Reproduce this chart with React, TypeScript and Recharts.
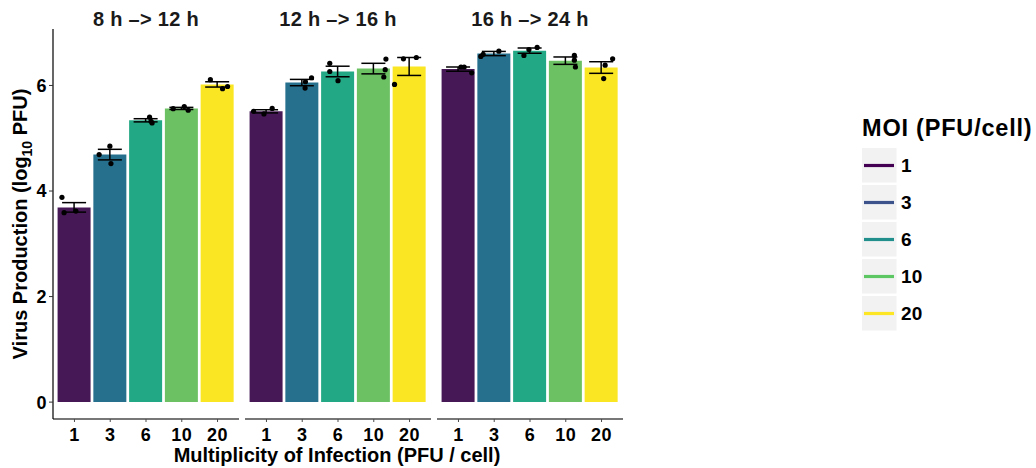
import React from 'react';
import { ComposedChart, Bar, ErrorBar, Scatter, XAxis, YAxis, Cell } from 'recharts';

const MOI = ['1', '3', '6', '10', '20'];
const PANEL_TITLES = ['8 h –> 12 h', '12 h –> 16 h', '16 h –> 24 h'];
const Y_TICKS = [0, 2, 4, 6];

const BAR_FILLS = ['#461856', '#26708E', '#22A884', '#6CC162', '#FAE622'];
const LEGEND_COLORS = ['#440154', '#3B528B', '#21908C', '#5DC863', '#FDE725'];

const MEANS_8_12 = [3.69, 4.69, 5.34, 5.565, 6.02];
const MEANS_12_16 = [5.51, 6.055, 6.265, 6.32, 6.36];
const MEANS_16_24 = [6.31, 6.605, 6.66, 6.47, 6.34];

const SE_8_12 = [0.09, 0.1, 0.03, 0.02, 0.05];
const SE_12_16 = [0.03, 0.06, 0.1, 0.1, 0.17];
const SE_16_24 = [0.04, 0.04, 0.05, 0.07, 0.11];

const REPS_8_12 = [[3.88, 3.59, 3.62], [4.69, 4.85, 4.52], [5.4, 5.32, 5.29], [5.56, 5.6, 5.53], [6.11, 5.94, 5.98]];
const REPS_12_16 = [[5.51, 5.46, 5.565], [6.07, 6.146, 5.95], [6.42, 6.265, 6.09], [6.5, 6.3, 6.16], [6.505, 6.53, 6.02]];
const REPS_16_24 = [[6.35, 6.35, 6.24], [6.55, 6.59, 6.65], [6.57, 6.68, 6.72], [6.57, 6.48, 6.35], [6.505, 6.385, 6.13]];

const JIT_8_12 = [[-0.35, -0.29, 0.04], [-0.31, -0.01, 0.02], [0.1, 0.14, 0.17], [-0.24, 0.07, 0.18], [-0.2, 0.14, 0.28]];
const JIT_12_16 = [[-0.36, -0.07, 0.16], [0.09, 0.26, 0.08], [-0.23, -0.23, 0.0], [0.34, 0.32, 0.28], [-0.17, 0.19, -0.42]];
const JIT_16_24 = [[0.07, 0.16, 0.37], [-0.375, -0.31, 0.13], [-0.17, -0.03, 0.2], [0.24, 0.24, 0.27], [0.31, 0.1, 0.06]];

const PANELS = [
  { title: PANEL_TITLES[0], means: MEANS_8_12, se: SE_8_12, reps: REPS_8_12, jit: JIT_8_12 },
  { title: PANEL_TITLES[1], means: MEANS_12_16, se: SE_12_16, reps: REPS_12_16, jit: JIT_12_16 },
  { title: PANEL_TITLES[2], means: MEANS_16_24, se: SE_16_24, reps: REPS_16_24, jit: JIT_16_24 },
];

const FONT = '"Liberation Sans", Arial, Helvetica, sans-serif';
const Y_DOMAIN: [number, number] = [-0.32, 7.07];
const PANEL_LEFTS = [53, 245, 437];
const PANEL_W = 186;
const H = 468;

const TICK_STYLE = { fill: '#000', fontSize: 18, fontWeight: 'bold', fontFamily: FONT, letterSpacing: 0.4 };

const Dot = (props: any) => <circle cx={props.cx} cy={props.cy} r={2.6} fill="#000" />;

function Panel({ idx }: { idx: number }) {
  const p = PANELS[idx];
  const data = MOI.map((m, i) => ({ moi: m, mean: p.means[i], se: p.se[i] }));
  const pts: { x: number; y: number }[] = [];
  p.reps.forEach((arr, i) => arr.forEach((v, k) => pts.push({ x: i + p.jit[i][k], y: v })));
  const showY = idx === 0;
  const left = showY ? 0 : PANEL_LEFTS[idx];
  const width = showY ? PANEL_LEFTS[0] + PANEL_W : PANEL_W;
  return (
    <div style={{ position: 'absolute', left, top: 0 }}>
      <ComposedChart width={width} height={H} data={data} margin={{ top: 29, right: 0, bottom: 19, left: 0 }}>
        <XAxis
          xAxisId="cat"
          dataKey="moi"
          type="category"
          interval={0}
          padding={{ left: 3.58, right: 3.58 }}
          height={30}
          tickSize={3}
          tickMargin={6}
          axisLine={{ stroke: '#4a4a4a', strokeWidth: 1.3 }}
          tickLine={{ stroke: '#4a4a4a' }}
          tick={TICK_STYLE}
        />
        <XAxis xAxisId="num" type="number" dataKey="x" domain={[-0.6, 4.6]} allowDataOverflow hide />
        <YAxis
          type="number"
          domain={Y_DOMAIN}
          ticks={Y_TICKS}
          allowDataOverflow
          hide={!showY}
          width={53}
          tickSize={4}
          tickMargin={2}
          axisLine={{ stroke: '#000', strokeWidth: 1.2 }}
          tickLine={{ stroke: '#333' }}
          tick={TICK_STYLE}
        />
        <Bar xAxisId="cat" dataKey="mean" barSize={33} isAnimationActive={false}>
          {data.map((d, i) => (
            <Cell key={d.moi} fill={BAR_FILLS[i]} />
          ))}
          <ErrorBar dataKey="se" width={12} strokeWidth={1.5} stroke="#000" direction="y" />
        </Bar>
        <Scatter xAxisId="num" data={pts} dataKey="y" shape={Dot} isAnimationActive={false} />
      </ComposedChart>
    </div>
  );
}

export default function App() {
  return (
    <div style={{ position: 'absolute', left: 0, top: 0, width: 1036, height: H, background: '#fff', fontFamily: FONT }}>
      {PANELS.map((_, i) => (
        <Panel key={i} idx={i} />
      ))}
      <svg width={1036} height={H} style={{ position: 'absolute', left: 0, top: 0, pointerEvents: 'none' }}>
        {PANELS.map((p, i) => (
          <text key={p.title} x={PANEL_LEFTS[i] + PANEL_W / 2} y={25.5} textAnchor="middle" fontSize={20} letterSpacing={0.3} fontWeight="bold" fontFamily={FONT} fill="#1a1a1a">
            {p.title}
          </text>
        ))}
        <text x={27} y={224} transform="rotate(-90 27 224)" textAnchor="middle" fontSize={20} fontWeight="bold" fontFamily={FONT} fill="#000">
          Virus Production (log
          <tspan fontSize={14} dy={5}>10</tspan>
          <tspan dy={-5}> PFU)</tspan>
        </text>
        <text x={337} y={462} textAnchor="middle" fontSize={20} fontWeight="bold" fontFamily={FONT} fill="#000">
          Multiplicity of Infection (PFU / cell)
        </text>
        <text x={862} y={136} fontSize={23.5} letterSpacing={0.8} fontWeight="bold" fontFamily={FONT} fill="#000">
          MOI (PFU/cell)
        </text>
        {MOI.map((m, i) => {
          const top = 148 + i * 37;
          return (
            <g key={m}>
              <rect x={862} y={top} width={34.5} height={34.5} fill="#f2f2f3" />
              <line x1={864} x2={894} y1={top + 17.5} y2={top + 17.5} stroke={LEGEND_COLORS[i]} strokeWidth={3.2} />
              <text x={901} y={top + 17.5} dy="0.36em" fontSize={19} letterSpacing={0.3} fontWeight="bold" fontFamily={FONT} fill="#000">
                {m}
              </text>
            </g>
          );
        })}
      </svg>
    </div>
  );
}
